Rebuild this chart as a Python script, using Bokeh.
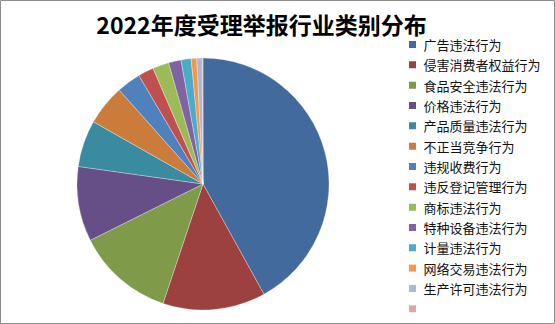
import math
from bokeh.plotting import figure
from bokeh.models import ColumnDataSource, Range1d
from bokeh.core.properties import value
from bokeh.embed import file_html
from bokeh.resources import INLINE

title = "2022年度受理举报行业类别分布"
categories = ["广告违法行为", "侵害消费者权益行为", "食品安全违法行为", "价格违法行为",
              "产品质量违法行为", "不正当竞争行为", "违规收费行为", "违反登记管理行为",
              "商标违法行为", "特种设备违法行为", "计量违法行为", "网络交易违法行为",
              "生产许可违法行为", ""]
shares = [42.0, 13.2, 12.5, 9.6, 6.0, 5.2, 3.1, 2.0, 2.1, 1.6, 1.3, 0.7, 0.7, 0.1]
colors = ["#426A9C", "#9C413F", "#7F9A48", "#664E86", "#3A8AA0", "#CC7C3A",
          "#4F81BD", "#C0504D", "#9BBB59", "#8064A2", "#4BACC6", "#F79646",
          "#A9B8D9", "#DBA8A8"]

W, H = 555, 324
cx, cy, R = 202.5, H - 183.5, 126

total = sum(shares)
starts, ends = [], []
cum = 0.0
for s in shares:
    starts.append(math.pi / 2 - 2 * math.pi * cum / total)
    cum += s
    ends.append(math.pi / 2 - 2 * math.pi * cum / total)

p = figure(width=W, height=H, output_backend="svg", toolbar_location=None,
           x_range=Range1d(0, W), y_range=Range1d(0, H), min_border=0)
p.xaxis.visible = False
p.yaxis.visible = False
p.grid.visible = False
p.outline_line_color = "#8C8C8C"
p.outline_line_width = 1
p.background_fill_color = "white"
p.border_fill_color = "white"

src = ColumnDataSource(dict(start=starts, end=ends, color=colors))
p.wedge(x=cx, y=cy, radius=R, radius_units="screen", start_angle="start", end_angle="end",
        direction="clock", fill_color="color", line_color="white", line_alpha=0.5,
        line_width=0.6, source=src)

# legend
n = len(categories)
ly = [H - (44 + i * 20.33) for i in range(n)]
lsrc = ColumnDataSource(dict(y=ly, color=colors, label=categories, x=[412] * n, tx=[423] * n))
p.rect(x="x", y="y", width=7, height=7, width_units="screen", height_units="screen",
       fill_color="color", line_color=None, source=lsrc)
p.text(x="tx", y="y", text="label", text_font=value("Noto Sans CJK SC"),
       text_font_size="13px", text_baseline="middle", text_align="left",
       text_color="#111111", source=lsrc)

# title
p.text(x=[261], y=[H - 23], text=[title], text_font=value("Noto Sans CJK SC"),
       text_font_size="23px", text_font_style="bold", text_align="center",
       text_baseline="middle", text_color="black")

open("out.html", "w").write(file_html(p, INLINE))
